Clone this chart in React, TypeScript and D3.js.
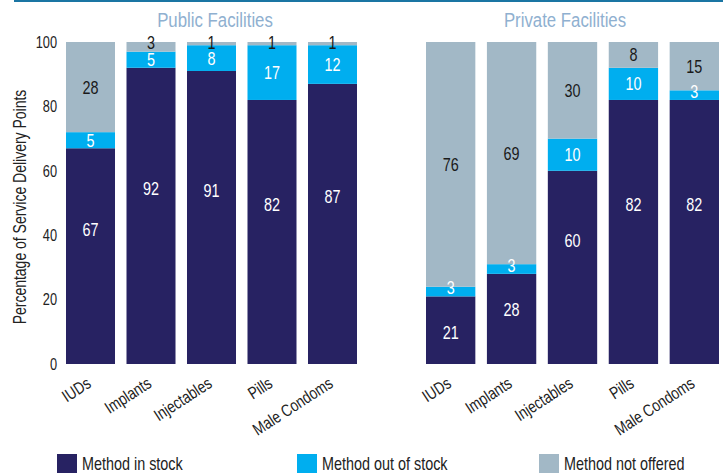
import React from 'react';
import * as d3 from 'd3';

const categories = ['IUDs', 'Implants', 'Injectables', 'Pills', 'Male Condoms'];

const publicInStock = [67, 92, 91, 82, 87];
const publicOutOfStock = [5, 5, 8, 17, 12];
const publicNotOffered = [28, 3, 1, 1, 1];

const privateInStock = [21, 28, 60, 82, 82];
const privateOutOfStock = [3, 3, 10, 10, 3];
const privateNotOffered = [76, 69, 30, 8, 15];

const yTicks = [0, 20, 40, 60, 80, 100];

const seriesKeys = ['inStock', 'outOfStock', 'notOffered'];
const seriesLabels = ['Method in stock', 'Method out of stock', 'Method not offered'];
const colors = ['#272262', '#00aeef', '#a2b8c6'];
const labelColors = ['#ffffff', '#ffffff', '#1a1a1a'];

const W = 723;
const H = 474;
const FONT = '"Liberation Sans", Arial, sans-serif';
const SQUEEZE = 0.8; // no condensed font installed, so squeeze horizontally

const y = d3.scaleLinear().domain([0, 100]).range([364, 42]);

// text with a horizontal squeeze, anchored at (x, y), optional rotation
function T({ x, y: ty, rotate = 0, children, ...rest }: any) {
  return (
    <text transform={`translate(${x},${ty}) rotate(${rotate}) scale(${SQUEEZE},1)`} {...rest}>
      {children}
    </text>
  );
}

const buildRows = (a: number[], b: number[], c: number[]) =>
  categories.map((cat, i) => ({ cat, inStock: a[i], outOfStock: b[i], notOffered: c[i] }));

const panels = [
  { title: 'Public Facilities', rows: buildRows(publicInStock, publicOutOfStock, publicNotOffered), range: [66, 357], titleX: 215 },
  { title: 'Private Facilities', rows: buildRows(privateInStock, privateOutOfStock, privateNotOffered), range: [426, 719], titleX: 565 },
];

const stack = d3.stack<any>().keys(seriesKeys);

function Panel({ panel }: { panel: typeof panels[0] }) {
  const x = d3.scaleBand().domain(categories).range(panel.range as [number, number]).paddingInner(0.19).paddingOuter(0);
  const layers = stack(panel.rows);
  return (
    <g>
      <T x={panel.titleX} y={27} textAnchor="middle" fill="#8fb0d0" fontSize={21}>{panel.title}</T>
      {layers.map((layer, li) => (
        <g key={li}>
          {layer.map((d, i) => (
            <rect key={i} x={x(categories[i])} y={y(d[1])} width={x.bandwidth()} height={y(d[0]) - y(d[1])} fill={colors[li]} />
          ))}
        </g>
      ))}
      {layers.map((layer, li) => (
        <g key={'l' + li}>
          {layer.map((d, i) => {
            const top = y(d[1]);
            const h = y(d[0]) - top;
            const center = top + h / 2;
            // in-stock labels sit above the middle of the segment in the original;
            // tiny segments get their label hung at the top edge
            let ly = center;
            if (li === 0) ly = Math.max(center - 27, top + 36);
            else if (h < 15) ly = top + 1;
            return (
              <T key={i} x={(x(categories[i]) as number) + x.bandwidth() / 2} y={ly} dy="0.36em"
                textAnchor="middle" fill={labelColors[li]} fontSize={18}>
                {d[1] - d[0]}
              </T>
            );
          })}
        </g>
      ))}
      {categories.map((c) => (
        <T key={c} x={(x(c) as number) + x.bandwidth() / 2 - 5} y={376} rotate={-33}
          textAnchor="end" fontSize={17} fill="#222" dy="0.72em">
          {c}
        </T>
      ))}
    </g>
  );
}

export default function App() {
  return (
    <svg width={W} height={H} style={{ position: 'absolute', left: 0, top: 0, background: '#fff' }} fontFamily={FONT}>
      <rect x={14} y={0} width={W - 14} height={2} fill="#1a75a3" />
      {yTicks.map((t) => (
        <T key={t} x={57} y={y(t)} dy="0.36em" textAnchor="end" fontSize={16} fill="#222">{t}</T>
      ))}
      <T x={20} y={207} rotate={-90} textAnchor="middle" dy="0.36em" fontSize={17.5} fill="#222">
        Percentage of Service Delivery Points
      </T>
      {panels.map((p) => <Panel key={p.title} panel={p} />)}
      {seriesLabels.map((s, i) => {
        const lx = [57, 297, 539][i];
        return (
          <g key={s}>
            <rect x={lx} y={454} width={20} height={19} fill={colors[i]} />
            <T x={lx + 25} y={464} dy="0.36em" fontSize={18} fill="#222">{s}</T>
          </g>
        );
      })}
    </svg>
  );
}
